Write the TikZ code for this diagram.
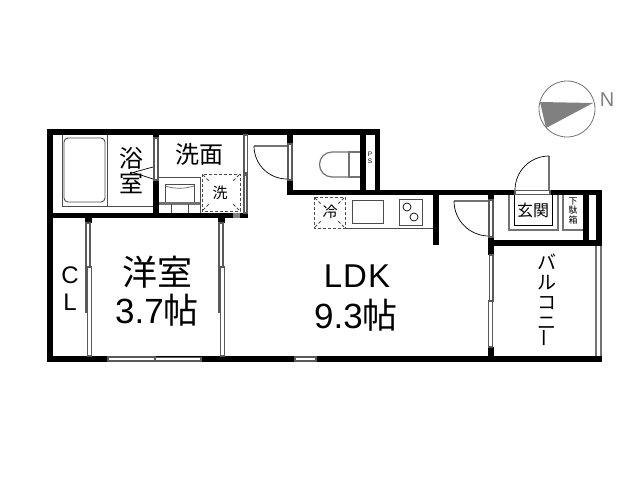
\documentclass[tikz,border=0pt]{standalone}
\usepackage{fontspec}
\setmainfont{Liberation Sans}
\newfontfamily\cjk{Noto Sans CJK JP}
\newcommand{\fs}[2]{\fontsize{#1}{#2}\selectfont}
\tikzset{
  wall/.style={fill=black,draw=none},
  pane/.style={fill=white,draw=black!65,line width=1.1pt},
  fix/.style={draw=black!70,line width=0.9pt},
  thin fix/.style={draw=black,line width=0.7pt},
  gray fix/.style={draw=black!55,line width=1.1pt},
  dash box/.style={draw=black!70,line width=0.9pt,dash pattern=on 3pt off 2pt},
  lbl/.style={inner sep=0pt,align=center,text=black}
}
\begin{document}
\begin{tikzpicture}[x=1pt,y=-1pt]
\useasboundingbox (0,0) rectangle (640,480);
\fill[white] (0,0) rectangle (640,480);
% fixtures - bath
\draw[fix] (62,135) -- (62,206) -- (153,206);
\draw[fix] (107,135) -- (107,206);
\draw[fix,rounded corners=4pt] (64,138) rectangle (105,202);
\draw[thin fix] (153,167) -- (133,172.5) -- (153,179);
% fixtures - vanity
\draw[fix] (159,177) -- (200,177) -- (200,213);
\draw[fix,line width=1pt] (165,184) rectangle (194,202);
\draw[thin fix,black!60] (165,186) .. controls (175,189) and (184,189) .. (194,186);
\fill[black!55] (159,202) rectangle (200,204.5);
\draw[fix] (171,204) -- (171,213) (188,204) -- (188,213);
\draw[dash box] (202,174) rectangle (240,211);
\draw[dash box] (203,175) -- (210,182) (239,175) -- (232,182) (203,210) -- (210,203) (239,210) -- (232,203);
% doors
\draw[gray fix] (287,146) -- (254,146);
\draw[thin fix] (254,146) arc[start angle=180,end angle=90,radius=33];
\draw[gray fix] (490,201) -- (454,201);
\draw[thin fix] (454,201) arc[start angle=180,end angle=90,radius=35];
\draw[gray fix] (549,190) -- (549,156);
\draw[thin fix] (515,190) arc[start angle=180,end angle=270,radius=34];
% toilet
\draw[gray fix,line width=1.2pt] (360,152) -- (349,152) -- (349,177) -- (360,177);
\draw[gray fix,line width=1.2pt] (349,152) -- (332,152) arc[start angle=270,end angle=90,radius=12.5] -- (349,177);
% kitchen
\draw[dash box] (314,197) rectangle (345,228);
\draw[dash box] (315,198) -- (321,204) (344,198) -- (338,204) (315,227) -- (321,221) (344,227) -- (338,221);
\draw[fix] (345,228) -- (433,228);
\draw[fix,line width=1pt] (352,200) rectangle (383,223);
\draw[fix,line width=1pt] (399,199) rectangle (422,225);
\draw[thin fix] (407,207) circle[radius=4] (414,217) circle[radius=4];
% entrance
\draw[gray fix] (509,195) -- (509,230) -- (558,230) -- (558,195);
\draw[thin fix] (514,195) -- (514,225) -- (552,225) -- (552,195);
\draw[gray fix] (563,195) -- (563,230) -- (583,230);
% balcony rail
\draw[gray fix] (596,246) -- (596,356);
\draw[gray fix] (601,246) -- (601,356);
% walls
\fill[wall] (47,129) rectangle (380,135);
\fill[wall] (47,129) rectangle (53,362);
\fill[wall] (47,356) rectangle (602,362);
\fill[wall] (47,213) rectangle (248,218);
\fill[wall] (153,129) rectangle (159,218);
\fill[wall] (243,173) rectangle (248,218);
\fill[wall] (287,129) rectangle (293,195);
\fill[wall] (360,135) rectangle (366,190);
\fill[wall] (375,129) rectangle (380,195);
\fill[wall] (287,190) rectangle (602,195);
\fill[wall] (433,195) rectangle (439,245);
\fill[wall] (488,190) rectangle (494,255);
\fill[wall] (488,240) rectangle (602,246);
\fill[wall] (583,190) rectangle (589,240);
\fill[wall] (596,190) rectangle (602,246);
\fill[wall] (488,347) rectangle (494,362);
\fill[wall] (85,218) rectangle (92,223);
\fill[wall] (218,218) rectangle (225,223);
\fill[black!50] (233,213) rectangle (240,218);
% sliding panes and door gaps
\draw[pane] (154,138) rectangle (158,180);
\draw[pane] (244,135) rectangle (247.5,173);
\draw[pane] (244,175) rectangle (247,213);
\draw[pane] (288,144) rectangle (292,180);
\draw[pane] (489,200) rectangle (493,237);
\draw[pane] (515,190.5) rectangle (550,194.5);
\draw[pane] (489.5,255) rectangle (493,301);
\draw[pane] (488.5,301) rectangle (492.5,347);
\draw[pane] (86,223) rectangle (90,312);
\draw[pane] (87.5,267) rectangle (91.5,356);
\draw[pane] (219,223) rectangle (223,312);
\draw[pane] (220.5,267) rectangle (224.5,356);
\draw[pane] (108,357) rectangle (155,361);
\draw[pane] (155,357.5) rectangle (201,361);
\draw[pane] (295,357) rectangle (316,361);
% compass
\draw[draw=black!55,line width=0.8pt] (567,109) circle[radius=28];
\fill[black!50] (540,102) -- (593,103) -- (546,128) -- cycle;
\node[lbl,text=black!50,font=\fs{20}{20}] (north) at (607,100) {N};
% labels
\node[lbl,font=\cjk\fs{24}{25}] (bath) at (131,171) {浴\\室};
\node[lbl,font=\cjk\fs{24}{25}] (wash) at (199,154) {洗面};
\node[lbl,font=\cjk\fs{15}{15}] (washer) at (220,193) {洗};
\node[lbl,font=\cjk\fs{15}{15}] (fridge) at (330,212) {冷};
\node[lbl,font=\fs{6.5}{7}] (ps) at (370,158) {P\\S};
\node[lbl,font=\cjk\fs{16}{16}] (hall) at (533,210) {玄関};
\node[lbl,font=\cjk\fs{9}{9.5}] (shoe) at (573,210.5) {下\\駄\\箱};
\node[lbl,font=\fs{24}{27}] (cl) at (70,289) {C\\L};
\node[lbl,font=\cjk\fs{35}{35}] (room) at (157,272) {洋室};
\node[lbl,font=\fs{35}{35}] (roomsize) at (157,310) {3.7{\cjk 帖}};
\node[lbl,font=\fs{33}{33}] (ldk) at (357,276) {L\kern1pt D\kern1pt K};
\node[lbl,font=\fs{35}{35}] (ldksize) at (356,315) {9.3{\cjk 帖}};
\node[lbl,font=\cjk\fs{19}{20}] (balcony) at (547,301) {バ\\ル\\コ\\ニ\\[-2pt]\rotatebox{90}{ー}};
\end{tikzpicture}
\end{document}
